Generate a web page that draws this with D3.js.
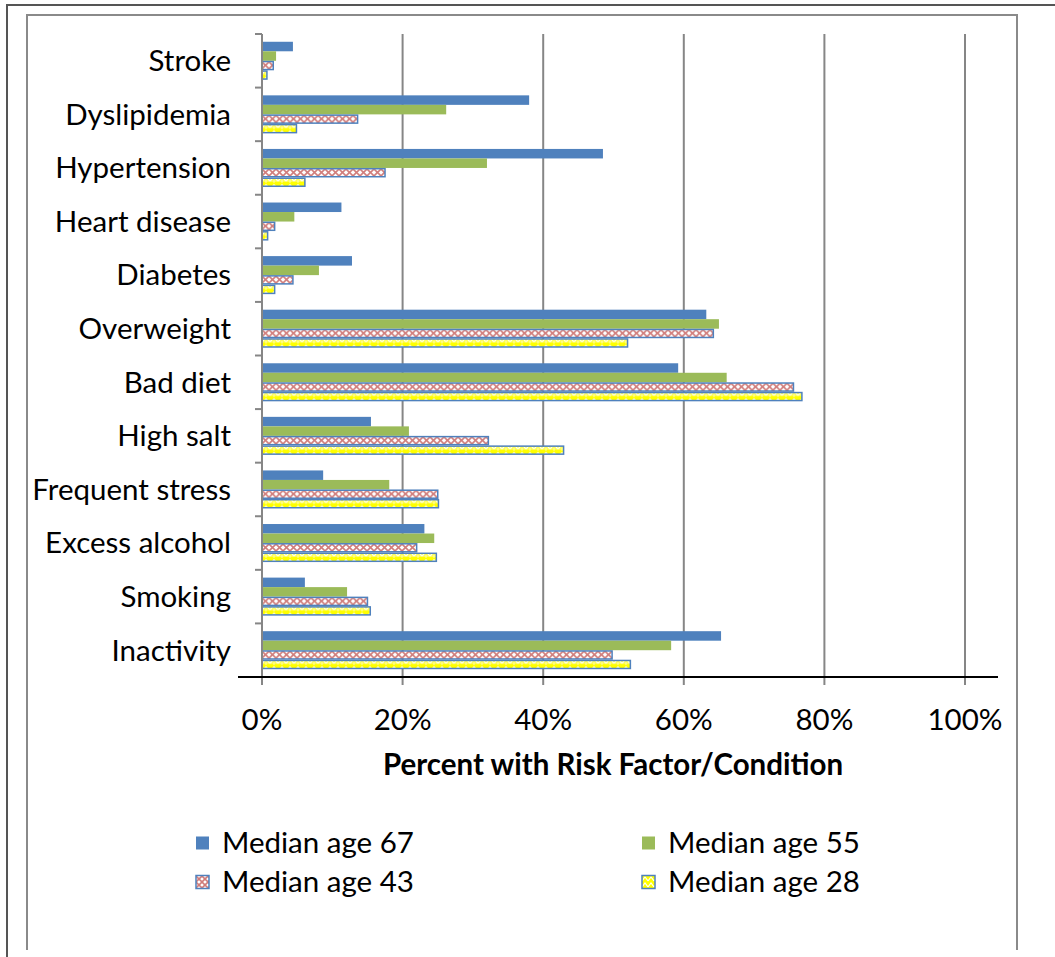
<!DOCTYPE html>
<html>
<head>
<meta charset="utf-8">
<script src="https://cdn.jsdelivr.net/npm/d3@7"></script>
<style>
  html, body { margin: 0; padding: 0; background: #fff; }
  svg { display: block; }
  text { font-family: Lato, "Open Sans", "Noto Sans", sans-serif; fill: #000; }
</style>
</head>
<body>
<svg id="chart" width="1055" height="957"></svg>
<script>
// Risk factors / conditions, top to bottom
const categories = ["Stroke", "Dyslipidemia", "Hypertension", "Heart disease", "Diabetes",
  "Overweight", "Bad diet", "High salt", "Frequent stress", "Excess alcohol", "Smoking", "Inactivity"];

// Percent of each group with the risk factor / condition
const age67 = [4.4, 38.0, 48.5, 11.3, 12.8, 63.2, 59.2, 15.5, 8.7, 23.1, 6.1, 65.3];
const age55 = [2.0, 26.2, 32.0, 4.6, 8.1, 65.0, 66.1, 20.9, 18.1, 24.5, 12.1, 58.2];
const age43 = [1.6, 13.6, 17.5, 1.8, 4.4, 64.2, 75.6, 32.2, 25.0, 22.0, 15.0, 49.8];
const age28 = [0.7, 4.9, 6.1, 0.8, 1.8, 52.0, 76.8, 42.9, 25.1, 24.8, 15.4, 52.4];

const seriesNames = ["Median age 67", "Median age 55", "Median age 43", "Median age 28"];
const xTicks = [0, 20, 40, 60, 80, 100];
const xTitle = "Percent with Risk Factor/Condition";

const seriesValues = [age67, age55, age43, age28];
const series = seriesNames.map((name, i) => ({ name, key: "s" + i, values: seriesValues[i] }));

const svg = d3.select("#chart");
const blue = "#4F81BD", green = "#9BBB59", red = "#C0504D", yellow = "#FFFF00";
const grid = "#868686";
const fontSize = 29.5;

const x = d3.scaleLinear().domain([0, 100]).range([262, 965]);
const y = d3.scaleBand().domain(categories).range([34, 677]).paddingInner(0.29).paddingOuter(0.145);
const y1 = d3.scaleBand().domain(series.map(s => s.key)).range([0, y.bandwidth()]);

// Fill patterns
const defs = svg.append("defs");
const step = y.step();
const dotOffset = y(categories[0]) - 34 + y1("s0") + y1.bandwidth() * 0.62;

const pDots = defs.append("pattern").attr("id", "pat-dots")
  .attr("patternUnits", "userSpaceOnUse").attr("x", 262).attr("y", 34)
  .attr("width", 21.4).attr("height", step);
pDots.append("rect").attr("width", 21.4).attr("height", step).attr("fill", blue);
pDots.append("circle").attr("cx", 5.4).attr("cy", dotOffset).attr("r", 1.4).attr("fill", "#e4ebf5");

const pCross = defs.append("pattern").attr("id", "pat-cross")
  .attr("patternUnits", "userSpaceOnUse").attr("x", 262).attr("y", 34)
  .attr("width", 7).attr("height", 7);
pCross.append("rect").attr("width", 7).attr("height", 7).attr("fill", "#fff");
pCross.append("path").attr("d", "M0,0L7,7M7,0L0,7")
  .attr("stroke", red).attr("stroke-width", 1.6).attr("opacity", 0.75);

const pZig = defs.append("pattern").attr("id", "pat-zig")
  .attr("patternUnits", "userSpaceOnUse").attr("x", 262).attr("y", 34)
  .attr("width", 8).attr("height", 8);
pZig.append("rect").attr("width", 8).attr("height", 8).attr("fill", yellow);
pZig.append("path").attr("d", "M0,6L4,2L8,6").attr("fill", "none")
  .attr("stroke", "#fff").attr("stroke-width", 1.4);
pZig.append("path").attr("d", "M4,2L4,8M0,6L8,6").attr("fill", "none")
  .attr("stroke", "#fffbd0").attr("stroke-width", 0.8);

const fills = { s0: "url(#pat-dots)", s1: green, s2: "url(#pat-cross)", s3: "url(#pat-zig)" };
const outlines = { s0: null, s1: null, s2: blue, s3: blue };
const swatchFills = { s0: blue, s1: green, s2: "url(#pat-cross-sw)", s3: "url(#pat-zig-sw)" };

// Outer frame lines
svg.append("path").attr("d", "M7,957V5H1055").attr("fill", "none").attr("stroke", "#555").attr("stroke-width", 2);
svg.append("path").attr("d", "M27,950V15H1017V950").attr("fill", "none").attr("stroke", "#8a8a8a").attr("stroke-width", 2);

// Vertical gridlines with tick marks below the axis
svg.append("g").selectAll("line").data(xTicks.slice(1)).join("line")
  .attr("x1", d => x(d)).attr("x2", d => x(d))
  .attr("y1", 34).attr("y2", 685)
  .attr("stroke", grid).attr("stroke-width", 2);

// Bars
const groups = svg.append("g").selectAll("g").data(categories).join("g")
  .attr("transform", c => `translate(0,${y(c)})`);
groups.selectAll("rect").data((c, ci) => series.map(s => ({ key: s.key, v: s.values[ci] })))
  .join("rect")
  .attr("x", x(0))
  .attr("y", d => y1(d.key) + (outlines[d.key] ? 0.75 : 0))
  .attr("width", d => x(d.v) - x(0))
  .attr("height", d => y1.bandwidth() - (outlines[d.key] ? 1.5 : 0))
  .attr("fill", d => fills[d.key])
  .attr("stroke", d => outlines[d.key])
  .attr("stroke-width", d => outlines[d.key] ? 1.5 : 0);

// Category axis
svg.append("line").attr("x1", 262).attr("x2", 262).attr("y1", 34).attr("y2", 685)
  .attr("stroke", grid).attr("stroke-width", 2);
const bounds = categories.map(c => y(c) - y.step() * y.paddingInner() / 2);
svg.append("g").selectAll("line").data(bounds).join("line")
  .attr("x1", 255).attr("x2", 262).attr("y1", d => d).attr("y2", d => d)
  .attr("stroke", grid).attr("stroke-width", 2);
svg.append("g").selectAll("text").data(categories).join("text")
  .attr("x", 231).attr("y", c => y(c) + y.bandwidth() / 2)
  .attr("dy", "0.35em").attr("text-anchor", "end")
  .attr("font-size", fontSize).text(c => c);

// Value axis
svg.append("line").attr("x1", 238).attr("x2", 998).attr("y1", 677).attr("y2", 677)
  .attr("stroke", "#000").attr("stroke-width", 2);
svg.append("g").selectAll("text").data(xTicks).join("text")
  .attr("x", d => x(d)).attr("y", 730).attr("text-anchor", "middle")
  .attr("font-size", fontSize).text(d => d + "%");
svg.append("text").attr("x", 613).attr("y", 775).attr("text-anchor", "middle")
  .attr("font-size", fontSize).attr("font-weight", "bold").text(xTitle);

// Legend swatch patterns (smaller tiles)
const pcs = defs.append("pattern").attr("id", "pat-cross-sw").attr("patternUnits", "userSpaceOnUse")
  .attr("width", 6).attr("height", 6);
pcs.append("rect").attr("width", 6).attr("height", 6).attr("fill", "#fff");
pcs.append("path").attr("d", "M0,0L6,6M6,0L0,6").attr("stroke", red).attr("stroke-width", 1.6).attr("opacity", 0.75);
const pzs = defs.append("pattern").attr("id", "pat-zig-sw").attr("patternUnits", "userSpaceOnUse")
  .attr("width", 6).attr("height", 6);
pzs.append("rect").attr("width", 6).attr("height", 6).attr("fill", yellow);
pzs.append("path").attr("d", "M0,5L3,1L6,5").attr("fill", "none").attr("stroke", "#fff").attr("stroke-width", 1.2);

// Legend
const legendPos = [[196, 843], [642, 843], [196, 882], [642, 882]];
const legend = svg.append("g").selectAll("g").data(series).join("g")
  .attr("transform", (d, i) => `translate(${legendPos[i][0]},${legendPos[i][1]})`);
legend.append("rect").attr("x", 0).attr("y", -6.5).attr("width", 13).attr("height", 13)
  .attr("fill", d => swatchFills[d.key])
  .attr("stroke", d => outlines[d.key]).attr("stroke-width", d => outlines[d.key] ? 1.5 : 0);
legend.append("text").attr("x", 26).attr("dy", "0.35em").attr("font-size", fontSize).text(d => d.name);
</script>
</body>
</html>
